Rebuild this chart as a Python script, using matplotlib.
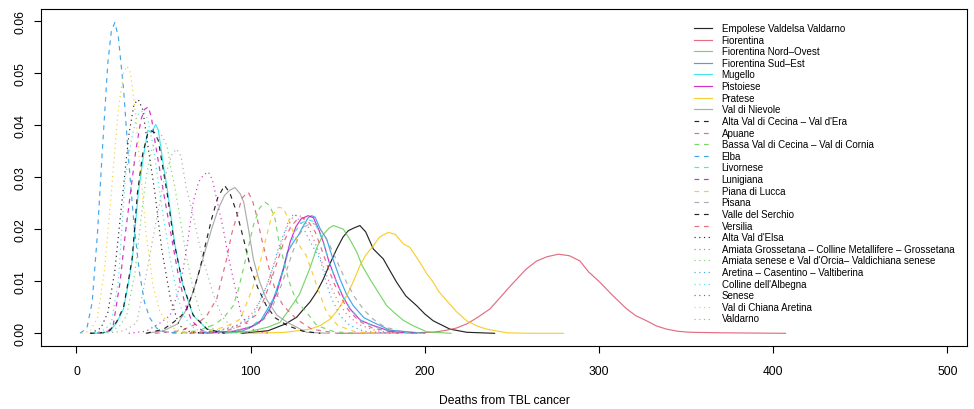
import matplotlib
matplotlib.use("Agg")
import matplotlib.pyplot as plt
from matplotlib.lines import Line2D

plt.rcParams['font.family'] = ['Liberation Sans', 'DejaVu Sans']

# ---------------- data ----------------
labels = [
    "Empolese Valdelsa Valdarno", "Fiorentina", "Fiorentina Nord–Ovest",
    "Fiorentina Sud–Est", "Mugello", "Pistoiese", "Pratese", "Val di Nievole",
    "Alta Val di Cecina – Val d'Era", "Apuane", "Bassa Val di Cecina – Val di Cornia",
    "Elba", "Livornese", "Lunigiana", "Piana di Lucca", "Pisana",
    "Valle del Serchio", "Versilia", "Alta Val d'Elsa",
    "Amiata Grossetana – Colline Metallifere – Grossetana",
    "Amiata senese e Val d'Orcia– Valdichiana senese",
    "Aretina – Casentino – Valtiberina", "Colline dell'Albegna", "Senese",
    "Val di Chiana Aretina", "Valdarno",
]

x_empolese = [95, 110, 120, 126.4, 130, 134, 138, 141.7, 145, 149.4, 153, 156, 159, 162.7, 166, 170.4, 176.1, 180, 183.8, 189, 195.3, 200, 204.8, 214.4, 224, 240]
y_empolese = [0, 0.0005, 0.0018, 0.0031, 0.0045, 0.006, 0.008, 0.0104, 0.013, 0.0162, 0.0185, 0.0197, 0.0202, 0.0207, 0.0195, 0.0162, 0.0143, 0.012, 0.0098, 0.0072, 0.0053, 0.0037, 0.0024, 0.0008, 0.0002, 0]

x_fiorentina = [150, 190, 204.8, 212.5, 218, 224, 230, 237.4, 243, 248, 252.7, 258, 264.2, 270, 276.6, 283, 289, 294, 300.5, 308, 315.8, 321, 327.3, 333, 338.8, 345, 352.2, 370, 407]
y_fiorentina = [0, 0.0001, 0.0002, 0.0006, 0.001, 0.0018, 0.003, 0.0047, 0.0068, 0.0087, 0.0104, 0.0123, 0.0139, 0.0147, 0.0152, 0.0149, 0.0139, 0.0118, 0.0098, 0.0072, 0.0047, 0.0034, 0.0024, 0.0014, 0.0008, 0.0004, 0.0002, 0.0001, 0]

x_fno = [85, 100, 110, 116.8, 122, 128, 134, 138, 141.7, 145, 147.4, 150, 153.2, 157, 160.9, 164, 168.5, 173, 178.1, 183, 187.6, 193, 201, 215]
y_fno = [0, 0.0004, 0.0012, 0.0021, 0.0045, 0.0075, 0.0125, 0.0165, 0.019, 0.0202, 0.0207, 0.0204, 0.02, 0.018, 0.0156, 0.013, 0.0104, 0.008, 0.0053, 0.0038, 0.0025, 0.0015, 0.0003, 0]

x_fse = [75, 95, 105, 113, 116, 118.7, 121, 124.5, 127.3, 130, 133, 135, 137, 140, 143.6, 147, 151.3, 155, 158.9, 165, 170.4, 180, 200]
y_fse = [0, 0.0004, 0.002, 0.0066, 0.0095, 0.0124, 0.0155, 0.0175, 0.0188, 0.0205, 0.0222, 0.0226, 0.0223, 0.02, 0.0181, 0.0145, 0.0104, 0.0075, 0.0053, 0.003, 0.0021, 0.0006, 0]

x_mugello = [8, 15, 19, 23, 27, 30, 32, 35.5, 38.4, 41, 43, 45.5, 47, 50, 52, 56.5, 61, 67, 75, 85]
y_mugello = [0, 0.0001, 0.0004, 0.002, 0.0047, 0.01, 0.014, 0.027, 0.034, 0.039, 0.0386, 0.0401, 0.039, 0.032, 0.028, 0.017, 0.0093, 0.0034, 0.0008, 0]

x_pistoiese = [70, 90, 100, 107.2, 111, 115, 119, 122.6, 126, 129, 133, 136, 139, 141.7, 145, 149.4, 153, 157, 163, 170.3, 180, 195]
y_pistoiese = [0, 0.0004, 0.0012, 0.0027, 0.0048, 0.0079, 0.0125, 0.0175, 0.0205, 0.022, 0.0226, 0.0222, 0.02, 0.0175, 0.0137, 0.0098, 0.007, 0.0047, 0.0025, 0.0015, 0.0004, 0]

x_pratese = [100, 120, 134, 140, 145.5, 150, 155.1, 159, 162.7, 166, 170.4, 174, 179, 183, 187.6, 191.4, 197.2, 201, 204.8, 208, 212.5, 218, 224, 230, 235.5, 247, 260, 279.5]
y_pratese = [0, 0.0002, 0.0008, 0.0015, 0.0027, 0.0045, 0.0072, 0.01, 0.013, 0.015, 0.0168, 0.0185, 0.0194, 0.019, 0.0172, 0.0165, 0.0136, 0.0115, 0.0098, 0.008, 0.0063, 0.0042, 0.0024, 0.0014, 0.0008, 0.0001, 0, 0]

x_nievole = [40, 50, 58, 63, 67, 70.9, 74.7, 78, 81.4, 85, 88, 91, 94, 96, 99, 101.5, 105, 109, 115, 121, 132, 145]
y_nievole = [0, 0.0005, 0.0018, 0.0045, 0.008, 0.0124, 0.0168, 0.0205, 0.0239, 0.0265, 0.0275, 0.028, 0.0268, 0.0252, 0.0195, 0.0143, 0.01, 0.0066, 0.0035, 0.0021, 0.0002, 0]

x_altacecina = [40, 50, 55.6, 60, 63.3, 67, 70.9, 74, 77.6, 81, 85, 88, 92, 96, 99.6, 104, 109, 114, 121, 130, 140]
y_altacecina = [0, 0.0008, 0.0021, 0.0033, 0.0047, 0.008, 0.0124, 0.017, 0.022, 0.026, 0.0284, 0.027, 0.0232, 0.018, 0.013, 0.0088, 0.0053, 0.003, 0.0015, 0.0004, 0]

x_apuane = [45, 60, 70, 75, 80.5, 83, 86.2, 89, 92, 95, 98.6, 101, 103.4, 106, 109.2, 112, 115, 118.7, 126.4, 135, 150]
y_apuane = [0, 0.0005, 0.002, 0.0035, 0.0066, 0.01, 0.0143, 0.019, 0.0225, 0.026, 0.0271, 0.0255, 0.0226, 0.0185, 0.0143, 0.0105, 0.0075, 0.0053, 0.0027, 0.0008, 0]

x_bassacecina = [55, 70, 80, 85, 90, 93, 95.8, 99, 101.5, 105, 108.2, 111, 114, 116, 118.7, 122, 126.4, 131, 138, 148, 160]
y_bassacecina = [0, 0.0005, 0.0018, 0.0032, 0.0053, 0.0085, 0.0124, 0.017, 0.0207, 0.024, 0.0252, 0.0245, 0.022, 0.018, 0.0143, 0.01, 0.006, 0.0045, 0.0015, 0.0003, 0]

x_elba = [2, 6, 9, 12, 15, 18, 20, 22, 24, 27, 30, 33, 36, 39, 42, 46, 50, 60]
y_elba = [0, 0.001, 0.006, 0.019, 0.036, 0.052, 0.058, 0.0597, 0.057, 0.047, 0.033, 0.021, 0.012, 0.006, 0.003, 0.001, 0.0003, 0]

x_livornese = [70, 90, 100, 107, 111, 115, 119, 122.6, 126, 129, 133, 136, 139, 142, 145, 149, 153, 157, 163, 170, 180, 195]
y_livornese = [0, 0.0004, 0.0013, 0.003, 0.005, 0.0082, 0.0125, 0.0168, 0.0198, 0.0212, 0.0218, 0.0215, 0.0198, 0.0172, 0.0138, 0.01, 0.0072, 0.0048, 0.0026, 0.0014, 0.0004, 0]

x_lunigiana = [12, 18, 21, 25, 28, 31, 34, 37, 39, 41.2, 43, 45, 48, 50, 54, 58, 62, 66, 72, 82]
y_lunigiana = [0, 0.0004, 0.0014, 0.0098, 0.019, 0.027, 0.035, 0.041, 0.043, 0.0435, 0.0415, 0.037, 0.031, 0.027, 0.0195, 0.012, 0.006, 0.0025, 0.0005, 0]

x_pianalucca = [60, 75, 85, 90, 93.9, 98, 101.5, 105, 108.2, 112, 115.9, 119, 122, 125, 128, 132, 135, 138, 143.6, 150, 160, 175]
y_pianalucca = [0, 0.0004, 0.0012, 0.002, 0.0027, 0.006, 0.0091, 0.013, 0.0175, 0.0225, 0.0242, 0.024, 0.0215, 0.019, 0.0168, 0.0149, 0.012, 0.0091, 0.004, 0.0015, 0.0003, 0]

x_pisana = [70, 90, 100, 108, 112, 116, 120, 124, 128, 131, 135, 138, 141, 145, 150, 155, 160, 165, 170, 177, 187, 200]
y_pisana = [0, 0.0003, 0.001, 0.0028, 0.0048, 0.0078, 0.0115, 0.0155, 0.019, 0.0205, 0.0212, 0.0208, 0.0195, 0.0172, 0.0135, 0.0098, 0.0068, 0.0045, 0.0028, 0.0012, 0.0003, 0]

x_serchio = [8, 15, 19, 23, 27, 30, 32, 35, 38, 41, 43, 45, 47, 50, 52, 56, 61, 67, 75, 85]
y_serchio = [0, 0.0001, 0.0005, 0.0022, 0.005, 0.0105, 0.0145, 0.027, 0.0345, 0.0385, 0.0389, 0.0385, 0.037, 0.031, 0.027, 0.0175, 0.0095, 0.0035, 0.0008, 0]

x_versilia = [65, 85, 95, 103, 107, 111, 115, 119, 123, 127, 130, 133, 137, 140, 144, 148, 152, 156, 162, 170, 185]
y_versilia = [0, 0.0004, 0.0015, 0.0035, 0.006, 0.0095, 0.0135, 0.0175, 0.0205, 0.022, 0.0222, 0.0215, 0.0195, 0.0168, 0.013, 0.0095, 0.0068, 0.0045, 0.0024, 0.001, 0]

x_altaelsa = [8, 14, 18, 22, 26, 30, 33, 35.5, 38, 41, 45, 49, 54, 59, 65, 75]
y_altaelsa = [0, 0.001, 0.004, 0.012, 0.025, 0.038, 0.044, 0.0449, 0.043, 0.036, 0.027, 0.016, 0.0065, 0.0015, 0.0003, 0]

x_amiatagr = [60, 80, 92, 100, 105, 109, 113, 117, 121, 124, 127, 130, 134, 138, 142, 146, 150, 155, 162, 172, 185]
y_amiatagr = [0, 0.0004, 0.0015, 0.0035, 0.006, 0.009, 0.0128, 0.0168, 0.0205, 0.0222, 0.0228, 0.0222, 0.0198, 0.0165, 0.0125, 0.009, 0.0062, 0.0037, 0.0017, 0.0005, 0]

x_amiatasi = [12, 20, 25, 28.8, 33.6, 37, 40, 43, 46, 49, 52, 54, 56.5, 60, 63, 67, 71, 76, 85, 95]
y_amiatasi = [0, 0.0004, 0.0015, 0.0034, 0.0118, 0.022, 0.03, 0.035, 0.0375, 0.038, 0.036, 0.032, 0.028, 0.021, 0.015, 0.0085, 0.004, 0.0012, 0.0002, 0]

x_aretina = [65, 80, 90, 95, 101.5, 105, 109.2, 113, 116, 118.7, 122, 125, 128.3, 132, 136, 139.8, 143.6, 146.5, 151.3, 157, 165, 180]
y_aretina = [0, 0.0003, 0.0012, 0.002, 0.0034, 0.006, 0.0091, 0.013, 0.0165, 0.0188, 0.0218, 0.023, 0.0215, 0.019, 0.0165, 0.0143, 0.0095, 0.0066, 0.0034, 0.0015, 0.0004, 0]

x_albegna = [10, 16, 20, 24, 28, 32, 35, 38.4, 41, 44, 47, 50, 54, 58, 62, 68, 78]
y_albegna = [0, 0.0007, 0.002, 0.01, 0.03, 0.038, 0.042, 0.0428, 0.041, 0.036, 0.029, 0.022, 0.014, 0.007, 0.003, 0.0008, 0]

x_senese = [30, 40, 48, 53.7, 58, 61.3, 64, 67, 70, 73, 75.7, 78, 81, 84, 87, 90, 94.8, 100, 110]
y_senese = [0, 0.0004, 0.002, 0.0034, 0.0075, 0.0124, 0.018, 0.0252, 0.029, 0.0305, 0.031, 0.0295, 0.025, 0.0205, 0.015, 0.0104, 0.0034, 0.0008, 0]

x_chiana = [3, 8, 12, 16, 20, 24, 27, 29, 31, 34, 37, 40, 44, 48, 55, 65]
y_chiana = [0, 0.0005, 0.003, 0.012, 0.027, 0.043, 0.05, 0.0513, 0.05, 0.042, 0.03, 0.019, 0.009, 0.004, 0.001, 0]

x_valdarno = [15, 25, 30, 34.5, 37.4, 42, 46, 50, 53, 55, 57.5, 60, 63, 66, 69, 72, 75, 79, 84, 90, 100]
y_valdarno = [0, 0.0003, 0.001, 0.002, 0.0066, 0.0149, 0.022, 0.029, 0.0325, 0.0345, 0.0354, 0.034, 0.028, 0.024, 0.0194, 0.015, 0.0115, 0.007, 0.003, 0.001, 0]

xs = [x_empolese, x_fiorentina, x_fno, x_fse, x_mugello, x_pistoiese, x_pratese, x_nievole,
      x_altacecina, x_apuane, x_bassacecina, x_elba, x_livornese, x_lunigiana, x_pianalucca,
      x_pisana, x_serchio, x_versilia,
      x_altaelsa, x_amiatagr, x_amiatasi, x_aretina, x_albegna, x_senese, x_chiana, x_valdarno]
ys = [y_empolese, y_fiorentina, y_fno, y_fse, y_mugello, y_pistoiese, y_pratese, y_nievole,
      y_altacecina, y_apuane, y_bassacecina, y_elba, y_livornese, y_lunigiana, y_pianalucca,
      y_pisana, y_serchio, y_versilia,
      y_altaelsa, y_amiatagr, y_amiatasi, y_aretina, y_albegna, y_senese, y_chiana, y_valdarno]

x_ticks = [0, 100, 200, 300, 400, 500]
y_ticks = [0.00, 0.01, 0.02, 0.03, 0.04, 0.05, 0.06]

# ---------------- styles ----------------
palette = ["#000000", "#DF536B", "#61D04F", "#2297E6", "#28E2E5", "#CD0BBC", "#F5C710", "#9E9E9E"]
group_sizes = [8, 10, 8]
dash_styles = ["-", (0, (4, 4)), (0, (1, 3))]
colors, styles = [], []
for g, n in enumerate(group_sizes):
    for k in range(n):
        colors.append(palette[k % 8])
        styles.append(dash_styles[g])

W, H = 974, 410
fig = plt.figure(figsize=(W / 100, H / 100), dpi=100)
L, R, T, B = 41.3, 967, 10, 346.5
ax = fig.add_axes([L / W, 1 - B / H, (R - L) / W, (B - T) / H])

for x, y, c, s in zip(xs, ys, colors, styles):
    ax.plot(x, y, color=c, linestyle=s, lw=0.85, alpha=0.85, solid_joinstyle='round')

ax.set_xlim(-20.2, 511.2)
ax.set_ylim(-0.00234, 0.0623)
ax.set_xticks(x_ticks)
ax.set_xticklabels([str(v) for v in x_ticks])
ax.set_yticks(y_ticks)
ax.set_yticklabels([f"{v:.2f}" for v in y_ticks], rotation=90, va='center')
ax.tick_params(axis='both', length=5, width=0.8, labelsize=8.7)
ax.tick_params(axis='x', pad=9)
ax.tick_params(axis='y', pad=6)
for sp in ax.spines.values():
    sp.set_linewidth(0.8)
ax.set_xlabel("Deaths from TBL cancer", fontsize=8.7, labelpad=12)

# legend (manual, R style)
row0, drow = 29, 11.62
for i, (lab, c, s) in enumerate(zip(labels, colors, styles)):
    ypx = row0 + drow * i
    fy = 1 - ypx / H
    fig.add_artist(Line2D([694 / W, 712 / W], [fy, fy], transform=fig.transFigure,
                          color=c, linestyle=s, lw=0.85, alpha=0.85))
    fig.text(721.5 / W, fy, lab, fontsize=7, va='center', ha='left')

fig.savefig("out.png", dpi=100)
